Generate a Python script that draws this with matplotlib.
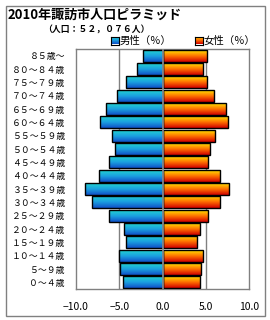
import numpy as np
import matplotlib
matplotlib.use("Agg")
from matplotlib import pyplot as plt
from matplotlib.colors import LinearSegmentedColormap
from matplotlib.patches import Rectangle

plt.rcParams["font.family"] = ["Noto Sans CJK JP", "DejaVu Sans"]

# age groups, top to bottom
ages = ["８５歳～", "８０～８４歳", "７５～７９歳", "７０～７４歳", "６５～６９歳",
        "６０～６４歳", "５５～５９歳", "５０～５４歳", "４５～４９歳", "４０～４４歳",
        "３５～３９歳", "３０～３４歳", "２５～２９歳", "２０～２４歳", "１５～１９歳",
        "１０～１４歳", "５～９歳", "０～４歳"]
male = [2.2, 2.9, 4.2, 5.3, 6.5, 7.2, 5.8, 5.5, 6.2, 7.3,
        9.0, 8.2, 6.2, 4.5, 4.2, 5.0, 4.9, 4.6]
female = [5.2, 4.7, 5.2, 5.9, 7.3, 7.6, 6.1, 5.5, 5.3, 6.6,
          7.7, 6.7, 5.3, 4.3, 4.0, 4.7, 4.5, 4.3]
xticks = [-10, -5, 0, 5, 10]

male_cmap = LinearSegmentedColormap.from_list("m", ["#1050C8", "#1BA0E0", "#22D4D0"])
female_cmap = LinearSegmentedColormap.from_list("f", ["#D00000", "#FF7000", "#FFE400"])
grad = np.linspace(0, 1, 64).reshape(-1, 1)

fig = plt.figure(figsize=(2.7, 3.2), dpi=100)
ax = fig.add_axes([76 / 270, 1 - 289 / 320, 173 / 270, 240 / 320])

n = len(ages)
ypos = np.arange(n)[::-1]
h = 0.9
for y, m, f in zip(ypos, male, female):
    ax.imshow(grad, cmap=male_cmap, extent=[-m, 0, y - h / 2, y + h / 2],
              aspect="auto", origin="lower", zorder=2)
    ax.imshow(grad, cmap=female_cmap, extent=[0, f, y - h / 2, y + h / 2],
              aspect="auto", origin="lower", zorder=2)
ax.barh(ypos, [-v for v in male], height=h, fill=False, edgecolor="black", linewidth=1.0, zorder=3)
ax.barh(ypos, female, height=h, fill=False, edgecolor="black", linewidth=1.0, zorder=3)

for xv in [-5, 5]:
    ax.axvline(xv, color="#808080", linewidth=1.0, zorder=1)
ax.axvline(0, color="#909090", linewidth=1.2, zorder=4)

ax.set_xlim(-10, 10)
ax.set_ylim(-0.5, n - 0.5)
ax.set_xticks(xticks)
ax.set_xticklabels([("%.1f" % v).replace("-", "−") for v in xticks], fontsize=7.5)
ax.set_yticks(ypos)
ax.set_yticklabels(ages, fontsize=6.4)
ax.tick_params(length=0, pad=8)
ax.tick_params(axis="x", pad=9)
for s in ax.spines.values():
    s.set_color("#808080")
    s.set_linewidth(1.0)

fig.text(8 / 270, 1 - 15 / 320, "2010年諏訪市人口ピラミッド", fontsize=9.4, fontweight="bold",
         va="center", ha="left")
fig.text(43 / 270, 1 - 29 / 320, "（人口：５２，０７６人）", fontsize=6.4, fontweight="bold",
         va="center", ha="left")

# legend
for x0, cmap, label in [(111, male_cmap, "男性（％）"), (195, female_cmap, "女性（％）")]:
    lax = fig.add_axes([x0 / 270, 1 - 44.5 / 320, 7.5 / 270, 7.5 / 320])
    lax.imshow(grad, cmap=cmap, aspect="auto", origin="lower")
    lax.set_xticks([])
    lax.set_yticks([])
    for s in lax.spines.values():
        s.set_color("black")
        s.set_linewidth(0.8)
    fig.text((x0 + 9) / 270, 1 - 41 / 320, label, fontsize=7.5, va="center", ha="left")

fig.patches.append(Rectangle((5.5 / 270, 4.5 / 320), 259 / 270, 310 / 320, transform=fig.transFigure,
                             fill=False, edgecolor="#808080", linewidth=1.0))

fig.savefig("out.png", dpi=100)
